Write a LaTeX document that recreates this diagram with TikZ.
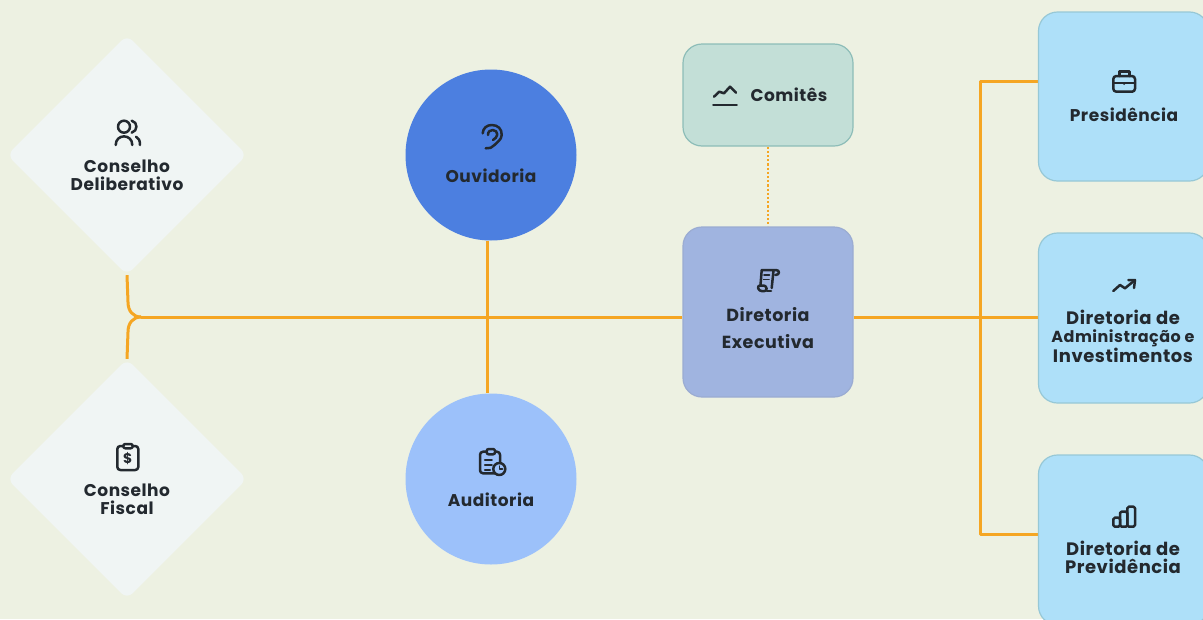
\documentclass[tikz,border=0pt]{standalone}
\usepackage{fontspec}
\setmainfont{Poppins}[LetterSpace=3]
\usetikzlibrary{shapes.geometric,calc}
\pgfdeclarelayer{fundo}
\pgfsetlayers{fundo,main}
\definecolor{corfundo}{HTML}{EDF1E2}
\definecolor{cordiamante}{HTML}{F0F5F4}
\definecolor{corouvidoria}{HTML}{4C7FE0}
\definecolor{corauditoria}{HTML}{9CC1FA}
\definecolor{corcomites}{HTML}{C3DFD7}
\definecolor{bordacomites}{HTML}{8DBDB8}
\definecolor{cordiretoria}{HTML}{A0B4E0}
\definecolor{corazul}{HTML}{AEE0F9}
\definecolor{bordaazul}{HTML}{97C8D6}
\definecolor{corlinha}{HTML}{F5A623}
\definecolor{tinta}{HTML}{23292F}
\tikzset{
	conselho/.style={diamond, aspect=1, inner sep=0pt, minimum width=240pt, minimum height=240pt, fill=cordiamante, rounded corners=8pt},
	orgao/.style={circle, inner sep=0pt, minimum size=171pt},
	caixa/.style={rectangle, inner sep=0pt, minimum width=170pt, rounded corners=19pt, line width=1.2pt},
	rotulo/.style={align=center, text=tinta, font=\fontsize{17}{18}\selectfont\bfseries, inner sep=0pt},
	rotulogrande/.style={rotulo, font=\fontsize{18}{18}\selectfont\bfseries},
	icone/.style={draw=tinta, line width=2.5pt, line cap=round, line join=round},
	ligacao/.style={draw=corlinha, line width=3pt, line join=round}
}
\begin{document}
\begin{tikzpicture}[x=1pt, y=-1pt]
	\useasboundingbox (0,0) rectangle (1203,619);
	% formas
	\node[conselho] (deliberativo) at (127,155) {};
	\node[conselho] (fiscal) at (127,479) {};
	\node[orgao, fill=corouvidoria] (ouvidoria) at (491,155) {};
	\node[orgao, fill=corauditoria] (auditoria) at (491,479) {};
	\node[caixa, minimum height=102pt, fill=corcomites, draw=bordacomites] (comites) at (768,95) {};
	\node[caixa, minimum height=170pt, fill=cordiretoria, draw=cordiretoria!85!gray] (diretoria) at (768,312) {};
	\node[caixa, minimum height=169pt, fill=corazul, draw=bordaazul] (presidencia) at (1123.5,96.5) {};
	\node[caixa, minimum height=170pt, fill=corazul, draw=bordaazul] (administracao) at (1123.5,318) {};
	\node[caixa, minimum height=170pt, fill=corazul, draw=bordaazul] (previdencia) at (1123.5,540) {};
	% textos
	\node[rotulo] (tdeliberativo) at (127,175.5) {Conselho\\Deliberativo};
	\node[rotulo] (tfiscal) at (127,499.5) {Conselho\\Fiscal};
	\node[rotulo] (touvidoria) at (491,175.7) {Ouvidoria};
	\node[rotulo] (tauditoria) at (491,499.7) {Auditoria};
	\node[rotulo] (tcomites) at (789,94.7) {Comitês};
	\node[rotulo, font=\fontsize{17.5}{27}\selectfont\bfseries] (tdiretoria) at (768,328) {Diretoria\\Executiva};
	\node[rotulo] (tpresidencia) at (1124,114.5) {Presidência};
	\node[rotulogrande] (tadministracao) at (1123,336) {Diretoria de\\{\fontsize{16}{18}\selectfont Administração e}\\Investimentos};
	\node[rotulogrande] (tprevidencia) at (1123,557.7) {Diretoria de\\Previdência};
	% pontos das ligacoes
	\coordinate (juntaE) at (141,317);
	\coordinate (juntaC) at (487,317);
	\coordinate (juntaD) at (980,317);
	\coordinate (ramoP) at (980,81);
	\coordinate (ramoV) at (980,534);
	\begin{pgfonlayer}{fundo}
		\fill[corfundo] (0,0) rectangle (1203,619);
		\draw[ligacao] (deliberativo.south) -- (128,302) .. controls (128,311) and (133,317) .. (juntaE);
		\draw[ligacao] (fiscal.north) -- (128,332) .. controls (128,323) and (133,317) .. (juntaE);
		\draw[ligacao] (juntaE) -- (juntaC) -- (juntaC -| diretoria.west);
		\draw[ligacao] (juntaC |- ouvidoria.south) -- (juntaC |- auditoria.north);
		\draw[ligacao] (juntaD -| diretoria.east) -- (juntaD -| administracao.west);
		\draw[ligacao] (presidencia.west |- ramoP) -- (ramoP) -- (ramoV) -- (previdencia.west |- ramoV);
		\draw[corlinha, line width=2.2pt, dash pattern=on 2.2pt off 2pt] (comites.south) -- (diretoria.north);
	\end{pgfonlayer}
	% icones
	\draw[icone] (124,126.7) circle (6);
	\draw[icone] (131.7,120.7) .. controls (138,122) and (138,131) .. (131.7,132.7);
	\draw[icone] (115.7,145) .. controls (115.7,133.5) and (132.3,133.5) .. (132.3,145);
	\draw[icone] (136,136.7) .. controls (139,138) and (140,141) .. (140,145);
	\draw[icone] (482.7,133.3) .. controls (483,128) and (487,125) .. (491.7,125) .. controls (498,125) and (502,129) .. (501.7,135) .. controls (501.5,140) and (497,142) .. (494.5,145) .. controls (492.5,147.5) and (489,149) .. (485.7,148.3);
	\draw[icone] (488,135) .. controls (488,131.5) and (490,130) .. (492.7,130) .. controls (495.5,130) and (497.3,132) .. (497.3,134.5) .. controls (497.3,137) and (495,138.5) .. (493,140);
	\draw[icone, rounded corners=3pt] (480,451.7) rectangle (500,473.3);
	\draw[icone, fill=corauditoria, rounded corners=2pt] (486.7,449) rectangle (495,454.3);
	\draw[icone] (485,460) -- (491.7,460) (485,465) -- (491.7,465) (485,470) -- (490,470);
	\draw[icone, fill=corauditoria] (499.3,469) circle (6);
	\draw[icone, line width=1.5pt] (499.3,466) -- (499.3,469) -- (502.5,469);
	\draw[icone, rounded corners=3pt] (117.3,446) rectangle (138.3,470);
	\draw[icone, fill=cordiamante, rounded corners=2pt] (123.3,444) rectangle (132.7,448.3);
	\node[inner sep=0pt, text=tinta, font=\fontsize{14}{14}\selectfont\bfseries] (cifrao) at (127.7,458.5) {\$};
	\draw[icone] (713.3,105) -- (736.7,105);
	\draw[icone] (714,96.7) -- (719.3,91.7) -- (724,93.3) -- (730,86.7) -- (736,92.7);
	\draw[icone] (760.5,285) -- (761.7,270) -- (776,270) .. controls (780,270) and (780,275) .. (775.5,275) (773.5,270.5) -- (771.7,288);
	\draw[icone, rounded corners=2.5pt] (757.5,285.5) -- (766,285.5) -- (767,291) -- (759,291) -- cycle;
	\draw[icone] (767,291) -- (771,291);
	\draw[icone, line width=1.8pt] (764,275) -- (769.5,275) (763.5,279.5) -- (769,279.5);
	\draw[icone, rounded corners=3pt] (1113.3,76) rectangle (1135,91.7);
	\draw[icone] (1119.3,76) -- (1119.3,71.7) -- (1129.3,71.7) -- (1129.3,76);
	\draw[icone] (1113.3,83) -- (1135,83);
	\fill[tinta] (1124,83.5) circle (1.5);
	\draw[icone] (1113.3,291) -- (1120,285) -- (1125,288.3) -- (1135,280);
	\draw[icone] (1128.3,280) -- (1135,280) -- (1134,288);
	\draw[icone, rounded corners=1.5pt] (1113.3,526.7) -- (1113.3,517.7) -- (1120,517.7) -- (1120,526.7) -- cycle;
	\draw[icone, rounded corners=1.5pt] (1120,526.7) -- (1120,511.7) -- (1127.3,511.7) -- (1127.3,526.7) -- cycle;
	\draw[icone, rounded corners=1.5pt] (1127.3,526.7) -- (1127.3,506.7) -- (1135,506.7) -- (1135,526.7) -- cycle;
\end{tikzpicture}
\end{document}
